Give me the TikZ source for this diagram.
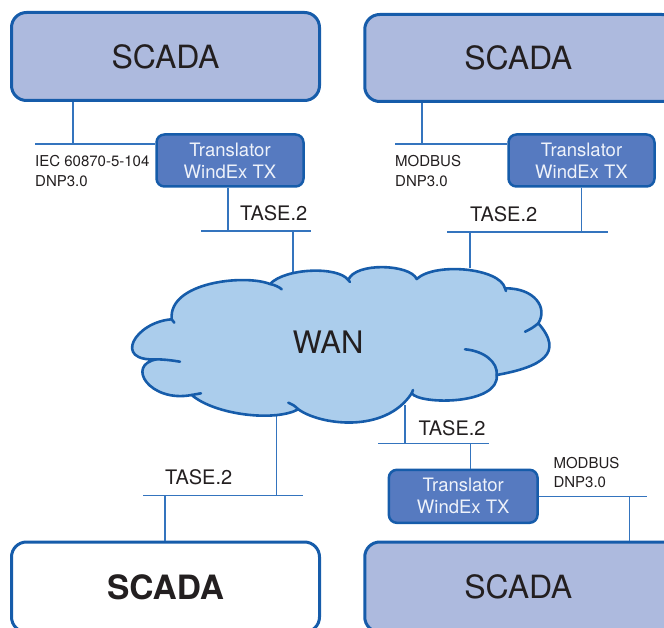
\documentclass[tikz,border=0pt]{standalone}
\usepackage{fontspec}
\setmainfont{TeX Gyre Heros}
\definecolor{scadafill}{RGB}{173,186,222}
\definecolor{bordblue}{RGB}{22,92,170}
\definecolor{transfill}{RGB}{86,122,192}
\definecolor{transtxt}{RGB}{238,242,250}
\definecolor{cloudfill}{RGB}{171,205,236}
\definecolor{linecol}{RGB}{52,116,190}
\definecolor{txt}{RGB}{35,31,32}
\begin{document}
\begin{tikzpicture}[x=1pt,y=-1pt,
  scadabox/.style={draw=bordblue, line width=3pt, rounded corners=15pt, fill=scadafill,
    minimum width=308pt, minimum height=88pt, inner sep=0pt, text=txt,
    font=\fontsize{32}{38}\selectfont},
  transbox/.style={draw=bordblue, line width=2.5pt, rounded corners=8pt, fill=transfill,
    minimum width=147pt, minimum height=52pt, inner sep=0pt, align=center, text=transtxt,
    font=\fontsize{18.5}{22}\selectfont},
  conn/.style={draw=linecol, line width=1.3pt},
  proto/.style={anchor=base west, inner sep=0pt, text=txt, font=\fontsize{15}{17}\selectfont},
  tase/.style={anchor=base west, inner sep=0pt, text=txt, font=\fontsize{20}{24}\selectfont},
  cloudline/.style={draw=bordblue, line width=2.6pt, line cap=round}
]
\useasboundingbox (0,0) rectangle (664,628);
\clip (0,0) rectangle (664,628);

% SCADA boxes
\node[scadabox] (s1) at (165.5,56.5) {SCADA};
\node[scadabox, minimum width=312pt, minimum height=87pt, text width=312pt, align=center] (s2) at (520.75,58) {\hspace*{-5pt}SCADA};
\node[scadabox, fill=white, minimum height=90pt, font=\fontsize{33.5}{40}\selectfont\bfseries] (s3) at (165.5,587) {SCADA};
\node[scadabox, minimum width=312pt, minimum height=90pt, text width=312pt, align=center] (s4) at (520.75,587) {\hspace*{-5pt}SCADA};

% Translators
\node[transbox] (t1) at (230,160.5) {Translator\\WindEx TX};
\node[transbox, minimum width=146pt] (t2) at (581.5,160.5) {Translator\\WindEx TX};
\node[transbox, minimum width=148.7pt, minimum height=53pt] (t3) at (463.2,496.3) {Translator\\WindEx TX};

% cloud anchor coordinates
\coordinate (cT1) at (293,274);
\coordinate (cT2) at (470,268);
\coordinate (cB1) at (276.7,413);
\coordinate (cB2) at (405,405);

% top-left connectors
\coordinate (j1) at (73,144);
\coordinate (b1a) at (35,144);
\draw[conn] (s1.south -| j1) -- (j1);
\draw[conn] (b1a) -- (b1a -| t1.west);
\coordinate (j2) at (228,231);
\coordinate (b2a) at (201,231);
\coordinate (b2b) at (311,231);
\draw[conn] (t1.south -| j2) -- (j2);
\draw[conn] (b2a) -- (b2b);
\draw[conn] (b2a -| cT1) -- (cT1);

% top-right connectors
\coordinate (j3) at (422,144);
\coordinate (b3a) at (395,144);
\draw[conn] (s2.south -| j3) -- (j3);
\draw[conn] (b3a) -- (b3a -| t2.west);
\coordinate (b4a) at (447,232);
\coordinate (b4b) at (608,232);
\draw[conn] (t2.south) -- (t2.south |- b4a);
\draw[conn] (b4a) -- (b4b);
\draw[conn] (b4a -| cT2) -- (cT2);

% bottom-left connectors
\coordinate (b5a) at (143,495.7);
\coordinate (b5b) at (303,495.7);
\coordinate (j5) at (165,495.7);
\draw[conn] (cB1) -- (cB1 |- b5a);
\draw[conn] (b5a) -- (b5b);
\draw[conn] (j5) -- (j5 |- s3.north);

% bottom-right connectors
\coordinate (b6a) at (378.3,443.3);
\coordinate (b6b) at (489,443.3);
\coordinate (j6) at (470.7,443.3);
\draw[conn] (cB2) -- (cB2 |- b6a);
\draw[conn] (b6a) -- (b6b);
\draw[conn] (j6) -- (j6 |- t3.north);
\coordinate (b7b) at (646.7,496.7);
\coordinate (j7) at (629.3,496.7);
\draw[conn] (t3.east |- b7b) -- (b7b);
\draw[conn] (j7) -- (j7 |- s4.north);

% cloud
\coordinate (C1) at (171.7,319.3);
\coordinate (C2) at (156.7,359.3);
\coordinate (C3) at (191.7,395);
\coordinate (C4) at (298.3,409.3);
\coordinate (C5) at (411.7,393.3);
\coordinate (C6) at (496.7,375);
\coordinate (C7) at (538.3,323.3);
\coordinate (C8) at (505,288.3);
\coordinate (C9) at (416.7,279);
\coordinate (C10) at (348.3,280);
\coordinate (C11) at (270,284);
\path[fill=cloudfill, cloudline, line join=round]
  (C1) .. controls (135,322) and (112,362) .. (C2)
  .. controls (125,365) and (150,403) .. (C3)
  .. controls (215,415) and (275,422) .. (C4)
  .. controls (320,425) and (385,434) .. (C5)
  .. controls (420,405) and (500,405) .. (C6)
  .. controls (541.7,366.9) and (564.7,353.3) .. (C7)
  .. controls (548,308) and (535,288) .. (C8)
  .. controls (500,268) and (435,262) .. (C9)
  .. controls (410,264) and (355,262) .. (C10)
  .. controls (338,266) and (285,268) .. (C11)
  .. controls (245,274) and (168,282) .. (C1) -- cycle;
% inner strokes of the cloud
\draw[cloudline] (C11) .. controls (275,285) and (279,287) .. (281.7,289.3);
\draw[cloudline] (C1) -- (174.3,322.7);
\draw[cloudline] (C2) .. controls (165,359.5) and (173,360.5) .. (180,361.7);
\draw[cloudline] (C3) -- (201,393.3);
\draw[cloudline] (C4) .. controls (295,406) and (292,404) .. (288.3,402.7);
\draw[cloudline] (C5) -- (413,390);
\draw[cloudline] (C6) .. controls (498,362) and (484,351) .. (465,349.3);
\draw[cloudline] (C7) .. controls (534,327) and (530,329.5) .. (525,331.7);
\draw[cloudline] (C8) -- (506,291);
\draw[cloudline] (C10) -- (350,282);
\node[inner sep=0pt, text=txt, font=\fontsize{31}{36}\selectfont] (wan) at (328,342) {WAN};

% protocol labels
\node[proto] (p1a) at (35,166.7) {IEC 60870-5-104};
\node[proto] (p1b) at (35,186.5) {DNP3.0};
\node[proto] (p2a) at (395,167) {MODBUS};
\node[proto] (p2b) at (395,186.7) {DNP3.0};
\node[proto] (p3a) at (553.3,468) {MODBUS};
\node[proto] (p3b) at (553.3,487.3) {DNP3.0};

% TASE.2 labels
\node[tase] (ta1) at (240,220.7) {TASE.2};
\node[tase] (ta2) at (470,221.5) {TASE.2};
\node[tase] (ta3) at (165,484) {TASE.2};
\node[tase] (ta4) at (418.3,435) {TASE.2};
\end{tikzpicture}
\end{document}
